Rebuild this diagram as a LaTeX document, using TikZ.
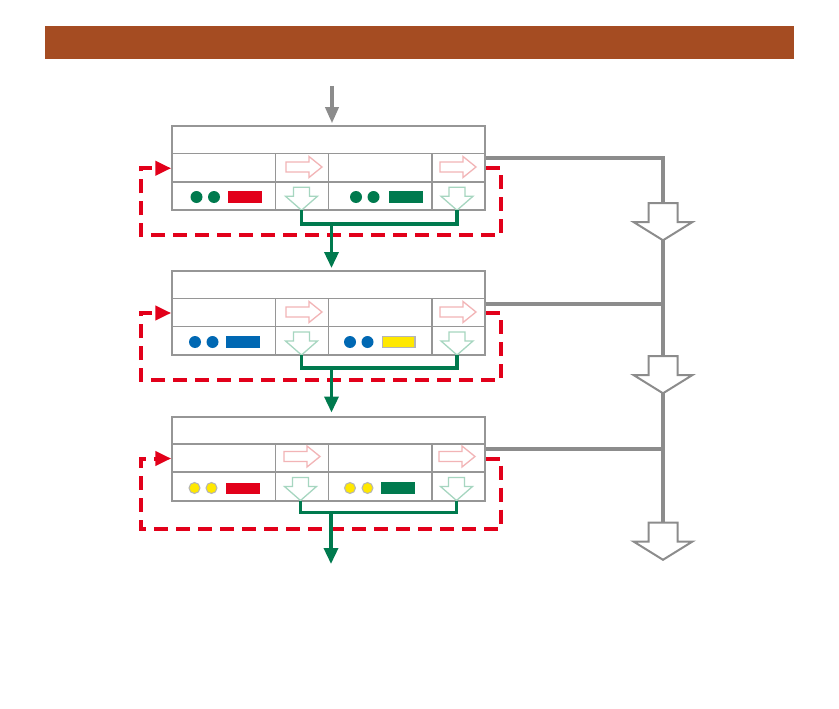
\documentclass[tikz,border=0pt]{standalone}
\usetikzlibrary{arrows.meta}
\definecolor{rust}{RGB}{165,76,34}
\definecolor{boxgray}{RGB}{150,150,150}
\definecolor{linegray}{RGB}{140,140,140}
\definecolor{signalred}{RGB}{226,0,26}
\definecolor{deepgreen}{RGB}{0,122,78}
\definecolor{deepblue}{RGB}{0,104,179}
\definecolor{lemon}{RGB}{255,232,0}
\definecolor{pinkedge}{RGB}{242,180,182}
\definecolor{mintedge}{RGB}{166,214,192}
\tikzset{
  stage/.style    = {rectangle, draw=boxgray, line width=2pt, fill=white,
                     minimum width=312.5pt, minimum height=84pt, inner sep=0pt},
  grid/.style     = {draw=boxgray, line width=1.2pt},
  feedback/.style = {draw=signalred, line width=4pt, dash pattern=on 14pt off 8pt,
                     -{Triangle[length=16pt,width=14pt]}},
  merge/.style    = {draw=deepgreen, line width=3.5pt},
  flow/.style     = {draw=deepgreen, line width=3.5pt, -{Triangle[length=16pt,width=14pt]}},
  inflow/.style   = {draw=linegray, line width=3.5pt, shorten >=2pt,
                     -{Triangle[length=16pt,width=13pt]}},
  spill/.style    = {draw=linegray, line width=4pt},
  dot/.style      = {fill=#1},
  litdot/.style   = {fill=lemon, draw=boxgray!70, line width=1pt},
  bar/.style      = {fill=#1},
  rarrow/.pic     = {\draw[draw=pinkedge, line width=1.3pt, fill=white]
                     (-18,-5) -- (5,-5) -- (5,-10.5) -- (18,0) -- (5,10.5) -- (5,5) -- (-18,5) -- cycle;},
  darrow/.pic     = {\draw[draw=mintedge, line width=1.3pt, fill=white]
                     (-8,-23) -- (8,-23) -- (8,-14) -- (16,-14) -- (0,0) -- (-16,-14) -- (-8,-14) -- cycle;},
  bigdrop/.pic    = {\draw[draw=linegray, line width=2pt, fill=white]
                     (-14.5,0) -- (14.5,0) -- (14.5,19) -- (29.5,19) -- (0,37.3) -- (-29.5,19) -- (-14.5,19) -- cycle;},
}

\begin{document}
\begin{tikzpicture}[x=1pt, y=-1pt]
      \useasboundingbox (0,0) rectangle (839,709);
      \fill[rust] (45,26) rectangle (794,59.5);

      % stages
      \node[stage] (box1) at (328.5,168.25) {};
      \node[stage] (box2) at (328.5,313)    {};
      \node[stage] (box3) at (328.5,458.5)  {};

      \draw[grid] (172.25,153.5) -- (484.75,153.5) (172.25,182) -- (484.75,182)
                  (275.5,153.5) -- (275.5,210.25) (328.5,153.5) -- (328.5,210.25) (432,153.5) -- (432,210.25);
      \draw[grid] (172.25,298.5) -- (484.75,298.5) (172.25,326.5) -- (484.75,326.5)
                  (275.5,298.5) -- (275.5,355) (328.5,298.5) -- (328.5,355) (432,298.5) -- (432,355);
      \draw[grid] (172.25,444) -- (484.75,444) (172.25,472) -- (484.75,472)
                  (275.5,444) -- (275.5,500.5) (328.5,444) -- (328.5,500.5) (432,444) -- (432,500.5);

      % markers
      \fill[dot=deepgreen] (196.5,197) circle (6) (214,197) circle (6);
      \fill[bar=signalred] (227.5,191) rectangle (262,202.5);
      \fill[dot=deepgreen] (356,197) circle (6) (373.5,197) circle (6);
      \fill[bar=deepgreen] (388.5,191) rectangle (422.5,202.5);

      \fill[dot=deepblue] (195,342) circle (6) (212.5,342) circle (6);
      \fill[bar=deepblue] (226,336) rectangle (260,347.5);
      \fill[dot=deepblue] (350,342) circle (6) (367.5,342) circle (6);
      \filldraw[fill=lemon, draw=boxgray!70, line width=1.5pt] (382.5,336.5) rectangle (415,347.5);

      \filldraw[litdot] (194.5,488) circle (5.5) (211.5,488) circle (5.5);
      \fill[bar=signalred] (226,482.5) rectangle (260,493.5);
      \filldraw[litdot] (350,488) circle (5.5) (367.5,488) circle (5.5);
      \fill[bar=deepgreen] (381,481.5) rectangle (415,493.5);

      \pic at (304,167)   {rarrow};
      \pic at (458,167)   {rarrow};
      \pic at (304,312)   {rarrow};
      \pic at (458,312)   {rarrow};
      \pic at (302,456.5) {rarrow};
      \pic at (457,456.5) {rarrow};

      \coordinate (out1a) at (301.5,210.25);
      \coordinate (out1b) at (457,210.25);
      \coordinate (out2a) at (301.5,355);
      \coordinate (out2b) at (457,355);
      \coordinate (out3a) at (300.5,500.5);
      \coordinate (out3b) at (456.5,500.5);
      \foreach \p in {out1a,out1b,out2a,out2b,out3a,out3b}
        \pic at (\p) {darrow};

      % feedback loops
      \draw[feedback] (box1.east) -- ++(15,0) -- ++(0,67) -- ++(-360,0) -- ++(0,-67) -- (box1.west);
      \draw[feedback] (box2.east) -- ++(15,0) -- ++(0,67) -- ++(-360,0) -- ++(0,-67) -- (box2.west);
      \draw[feedback] (box3.east) -- ++(15,0) -- ++(0,70) -- ++(-360,0) -- ++(0,-70) -- (box3.west);

      % main flow
      \coordinate (feed)  at (332,86);
      \coordinate (join1) at (331.5,224);
      \coordinate (join2) at (331.5,368);
      \coordinate (join3) at (331,512.5);
      \coordinate (exit)  at (331,564);
      \draw[inflow] (feed) -- (feed |- box1.north);
      \draw[merge] (out1a) |- (join1) -| (out1b);
      \draw[merge] (out2a) |- (join2) -| (out2b);
      \draw[merge] (out3a) |- (join3) -| (out3b);
      \draw[flow] (join1) -- ([yshift=2pt]join1 |- box2.north);
      \draw[flow] (join2) -- ([yshift=3pt]join2 |- box3.north);
      \draw[flow] (join3) -- (exit);

      % side outputs
      \coordinate (drop1) at (663,203);
      \coordinate (drop2) at (663,356);
      \coordinate (drop3) at (663,522.5);
      \coordinate (tip1)  at (663,240.3);
      \coordinate (tip2)  at (663,393.3);
      \draw[spill] ([yshift=10pt]box1.east) -| (drop1);
      \draw[spill] (tip1) -- (drop2);
      \draw[spill] (tip2) -- (drop3);
      \draw[spill] ([yshift=9pt]box2.east) -- ([yshift=9pt]box2.east -| drop2);
      \draw[spill] ([yshift=9.5pt]box3.east) -- ([yshift=9.5pt]box3.east -| drop3);
      \pic at (drop1) {bigdrop};
      \pic at (drop2) {bigdrop};
      \pic at (drop3) {bigdrop};
    \end{tikzpicture}
\end{document}
